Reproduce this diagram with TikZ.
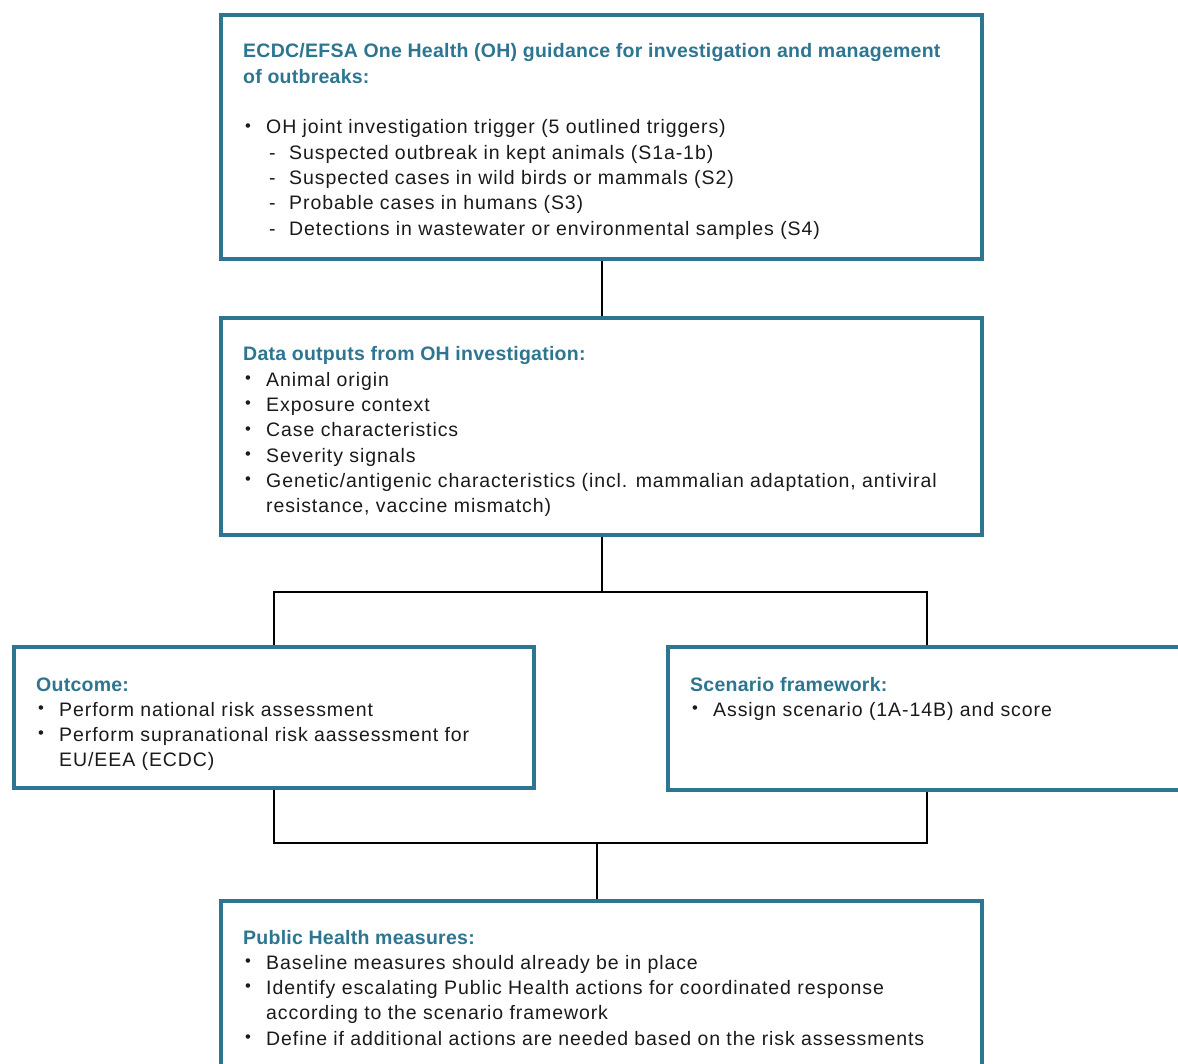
\documentclass[tikz,border=0pt]{standalone}
\usepackage{fontspec}
\setmainfont[LetterSpace=4.7]{Liberation Sans}
\definecolor{ohteal}{HTML}{2D7590}
\definecolor{bodytext}{HTML}{1A1A1A}
\newcommand\hd[1]{\leavevmode{\bfseries\addfontfeatures{LetterSpace=1.3}\color{ohteal}#1}}
\newcommand\bl{\leavevmode\makebox[23pt][l]{\hspace{2pt}\raisebox{0.14em}{\scalebox{0.85}{\textbullet}}}}
\newcommand\ds{\leavevmode\hspace{23pt}\makebox[23pt][l]{\hspace{3pt}-}}
\tikzset{
  x=1pt, y=-1pt,
  box/.style={draw=ohteal, line width=4pt, inner sep=0pt, fill=white},
  conn/.style={draw=black, line width=2pt},
  txt/.style={anchor=base west, inner sep=0pt, text=bodytext,
    font=\fontsize{19.5}{25.3}\selectfont},
}
\begin{document}
\begin{tikzpicture}
\useasboundingbox (0,0) rectangle (1178,1064);
\clip (0,0) rectangle (1178,1064);
\fill[white] (0,0) rectangle (1178,1064);
% boxes
\node[box, minimum width=761pt, minimum height=244pt] (top) at (601.5,137) {};
\node[box, minimum width=761pt, minimum height=217pt] (mid) at (601.5,426.5) {};
\node[box, minimum width=520pt, minimum height=141pt] (out) at (274,717.5) {};
\node[box, minimum width=518pt, minimum height=143pt] (scen) at (927,718.5) {};
\node[box, minimum width=761pt, minimum height=189pt] (ph) at (601.5,995.5) {};
% connectors
\coordinate (j1) at (603,592);
\coordinate (j2) at (597,843);
\draw[conn] (top.south) -- (mid.north);
\draw[conn] (mid.south) -- (mid.south |- j1);
\draw[conn] (out.north) |- (j1) -| (scen.north);
\draw[conn] (out.south) |- (j2) -| (scen.south);
\draw[conn] (j2) -- (j2 |- ph.north);
% texts
\node[txt] (ttop) at (243,58) {\parbox[t]{730pt}{\raggedright
\hd{ECDC/EFSA One Health (OH) guidance for investigation and management}\\
\hd{of outbreaks:}\\
\mbox{}\\
\bl OH joint investigation trigger (5 outlined triggers)\\
\ds Suspected outbreak in kept animals (S1a-1b)\\
\ds Suspected cases in wild birds or mammals (S2)\\
\ds Probable cases in humans (S3)\\
\ds Detections in wastewater or environmental samples (S4)}};
\node[txt] (tmid) at (243,361) {\parbox[t]{730pt}{\raggedright
\hd{Data outputs from OH investigation:}\\
\bl Animal origin\\
\bl Exposure context\\
\bl Case characteristics\\
\bl Severity signals\\
\bl Genetic/antigenic characteristics (incl. mammalian adaptation, antiviral\\
\hspace*{23pt}resistance, vaccine mismatch)}};
\node[txt] (tout) at (36,691) {\parbox[t]{490pt}{\raggedright
\hd{Outcome:}\\
\bl Perform national risk assessment\\
\bl Perform supranational risk aassessment for\\
\hspace*{23pt}EU/EEA (ECDC)}};
\node[txt] (tscen) at (690,691) {\parbox[t]{480pt}{\raggedright
\hd{Scenario framework:}\\
\bl Assign scenario (1A-14B) and score}};
\node[txt] (tph) at (243,944) {\parbox[t]{730pt}{\raggedright
\hd{Public Health measures:}\\
\bl Baseline measures should already be in place\\
\bl Identify escalating Public Health actions for coordinated response\\
\hspace*{23pt}according to the scenario framework\\
\bl Define if additional actions are needed based on the risk assessments}};
\end{tikzpicture}
\end{document}
